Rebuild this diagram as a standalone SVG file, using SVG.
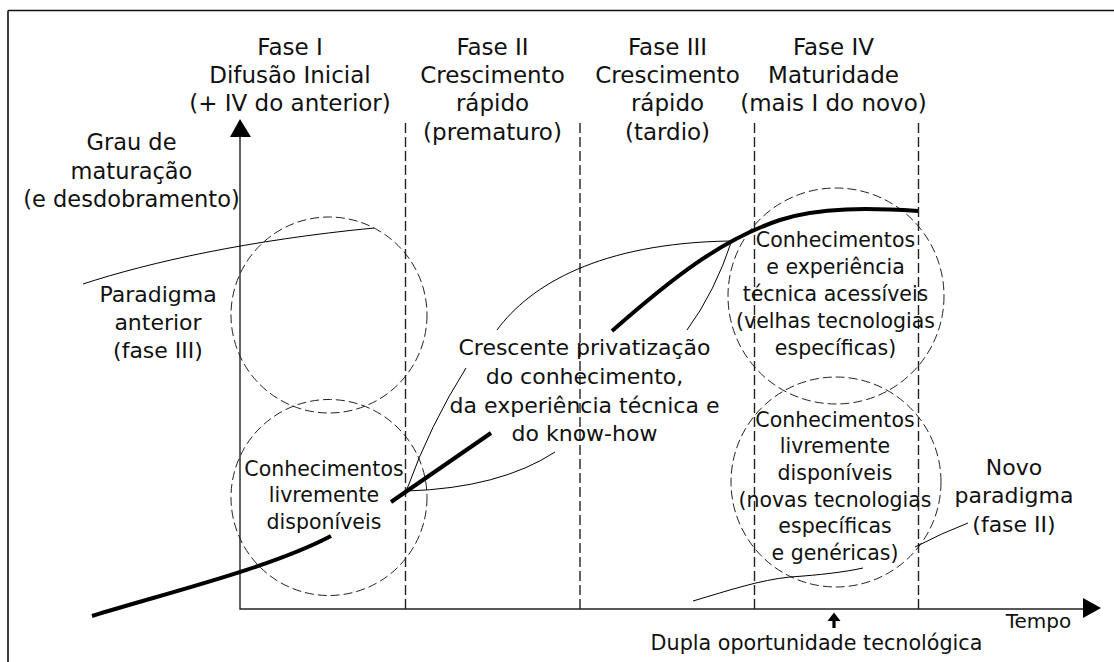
<svg xmlns="http://www.w3.org/2000/svg" width="1114" height="662" viewBox="0 0 1114 662">
<style>
text{font-family:"DejaVu Sans","Verdana","Liberation Sans",sans-serif;fill:#111;text-anchor:middle}
.l{font-size:22px}
.t{font-size:23px}
.c{font-size:20.5px}
.thin{fill:none;stroke:#000;stroke-width:1}
.thick{fill:none;stroke:#000;stroke-width:4;stroke-linecap:butt}
.div{fill:none;stroke:#222;stroke-width:1.4;stroke-dasharray:10 4}
.circ{fill:none;stroke:#222;stroke-width:1;stroke-dasharray:9 4}
.axis{fill:none;stroke:#222;stroke-width:1.4}
</style>
<rect width="1114" height="662" fill="#fff"/>
<g id="frame">
<path d="M8,10.5 H1114 M8,10.5 V662" fill="none" stroke="#111" stroke-width="1.6"/>
</g>
<g id="axes">
<path class="axis" d="M240,134 V609 H1085"/>
<polygon points="240,119 230,137 251,137" fill="#000"/>
<polygon points="1101,608 1083,598 1083,618" fill="#000"/>
</g>
<g id="phase-dividers">
<path class="div" d="M405.5,123 V609 M580,123 V609 M754.5,123 V609 M918.5,123 V609"/>
</g>
<g id="circle-old-paradigm"><circle class="circ" cx="329" cy="315" r="98"/></g>
<g id="circle-free-knowledge"><circle class="circ" cx="329" cy="497.5" r="98"/></g>
<g id="circle-accessible"><circle class="circ" cx="836" cy="296" r="108"/></g>
<g id="circle-new-free"><circle class="circ" cx="836" cy="482" r="105"/></g>
<g id="connectors">
<path class="thin" d="M83,284 C150,262 250,240 374,228"/>
<path class="thin" d="M497,330 C530,285 600,243 730,241"/>
<path class="thin" d="M687,330 Q715,292 732,240"/>
<path class="thin" d="M466,368 Q430,425 407,489"/>
<path class="thin" d="M555,452 Q500,488 407,491"/>
<path class="thin" d="M968,523 Q942,533 915,547"/>
<path class="thin" d="M693,601 C730,590 760,580 790,577 C820,575 845,572 863,568"/>
<path class="thick" d="M92,616 C170,592 270,568 331,536"/>
<path class="thick" d="M391,502 L491,433"/>
<path class="thick" d="M612,331 C670,280 720,240 780,220 C820,207 870,208 918,211"/>
</g>
<g id="phase-labels" class="t">
<text x="290" y="54.5">Fase I</text>
<text x="290" y="83">Difusão Inicial</text>
<text x="290" y="111">(+ IV do anterior)</text>
<text x="492.5" y="54.5">Fase II</text>
<text x="492.5" y="83">Crescimento</text>
<text x="492.5" y="111">rápido</text>
<text x="492.5" y="139.5">(prematuro)</text>
<text x="667.5" y="54.5">Fase III</text>
<text x="667.5" y="83">Crescimento</text>
<text x="667.5" y="111">rápido</text>
<text x="667.5" y="139.5">(tardio)</text>
<text x="833.5" y="54.5">Fase IV</text>
<text x="833.5" y="83">Maturidade</text>
<text x="833.5" y="111">(mais I do novo)</text>
</g>
<g id="y-label" style="font-size:22.5px">
<text x="131.5" y="150">Grau de</text>
<text x="131.5" y="178.5">maturação</text>
<text x="131.5" y="206.5">(e desdobramento)</text>
</g>
<g id="old-paradigm-label" class="l">
<text x="158" y="301.5">Paradigma</text>
<text x="158" y="330">anterior</text>
<text x="158" y="358">(fase III)</text>
</g>
<g id="free-knowledge-label" class="c">
<text x="324" y="475.7">Conhecimentos</text>
<text x="324" y="502.2">livremente</text>
<text x="324" y="528.7">disponíveis</text>
</g>
<g id="privatization-label" class="l">
<text x="584.5" y="355">Crescente privatização</text>
<text x="584.5" y="384">do conhecimento,</text>
<text x="584.5" y="412.5">da experiência técnica e</text>
<text x="584.5" y="440.5">do know-how</text>
</g>
<g id="accessible-label" class="c">
<text x="835.5" y="246.7">Conhecimentos</text>
<text x="835.5" y="273.7">e experiência</text>
<text x="835.5" y="300.7">técnica acessíveis</text>
<text x="835.5" y="327.7">(velhas tecnologias</text>
<text x="835.5" y="354.7">específicas)</text>
</g>
<g id="new-free-label" class="c">
<text x="835" y="426.7">Conhecimentos</text>
<text x="835" y="453.3">livremente</text>
<text x="835" y="480">disponíveis</text>
<text x="835" y="506.7">(novas tecnologias</text>
<text x="835" y="533.4">específicas</text>
<text x="835" y="560">e genéricas)</text>
</g>
<g id="new-paradigm-label" class="l">
<text x="1014" y="475">Novo</text>
<text x="1014" y="503.3">paradigma</text>
<text x="1014" y="531.7">(fase II)</text>
</g>
<g id="time-label">
<text x="1038.5" y="628.3" style="font-size:20px">Tempo</text>
</g>
<g id="opportunity">
<path d="M834,619 V628" stroke="#000" stroke-width="3.2" fill="none"/>
<polygon points="827.5,621 834,612.5 840.5,621" fill="#000"/>
<text x="816.5" y="650" style="font-size:20.7px">Dupla oportunidade tecnológica</text>
</g>
</svg>
